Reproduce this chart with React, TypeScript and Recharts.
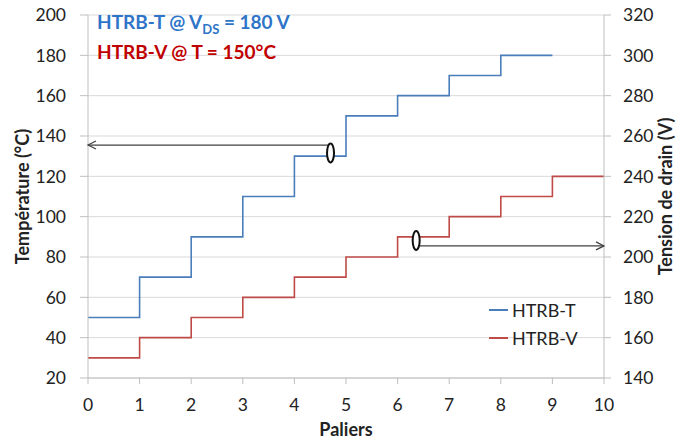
import React from 'react';
import {
  ComposedChart, Line, XAxis, YAxis, CartesianGrid, Legend, ReferenceLine, ReferenceDot,
} from 'recharts';

// paliers (x) and step values
const paliersT = [0, 1, 2, 3, 4, 5, 6, 7, 8, 9];
const temperature = [50, 70, 90, 110, 130, 150, 160, 170, 180, 180];
const paliersV = [0, 1, 2, 3, 4, 5, 6, 7, 8, 9, 10];
const tension = [150, 160, 170, 180, 190, 200, 210, 220, 230, 240, 240];

const xTicks = [0, 1, 2, 3, 4, 5, 6, 7, 8, 9, 10];
const leftTicks = [20, 40, 60, 80, 100, 120, 140, 160, 180, 200];
const rightTicks = [140, 160, 180, 200, 220, 240, 260, 280, 300, 320];

// annotation arrows: [xStart, xEnd, y] and ellipse [x, y]
const arrowLeft = { x1: 0, x2: 4.7, y: 135.5 };
const ellipseLeft = { x: 4.7, y: 131.6 };
const arrowRight = { x1: 6.36, x2: 10, y: 205.5 };
const ellipseRight = { x: 6.36, y: 208.2 };

const BLUE = '#4A7EBB';
const RED = '#BE4B48';
const FONT = 'Lato, "Open Sans", sans-serif';
const AXIS = '#BFBFBF';

const dataT = paliersT.map((p, i) => ({ p, t: temperature[i] }));
const dataV = paliersV.map((p, i) => ({ p, v: tension[i] }));

const tick = { fill: '#222', fontSize: 17.5, fontFamily: FONT };

const Ellipse = (props: any) => (
  <ellipse cx={props.cx} cy={props.cy} rx={3.5} ry={9.5} fill="#fff" stroke="#111" strokeWidth={2} />
);

const HeadLeft = (props: any) => (
  <polyline
    points={`${props.cx + 8},${props.cy - 4} ${props.cx},${props.cy} ${props.cx + 8},${props.cy + 4}`}
    fill="none" stroke="#404040" strokeWidth={1.2}
  />
);

const HeadRight = (props: any) => (
  <polyline
    points={`${props.cx - 8},${props.cy - 4} ${props.cx},${props.cy} ${props.cx - 8},${props.cy + 4}`}
    fill="none" stroke="#404040" strokeWidth={1.2}
  />
);

const renderLegend = (props: any) => (
  <div style={{ fontFamily: FONT, fontSize: 18, color: '#222' }}>
    {(props.payload || []).map((e: any) => (
      <div key={e.value} style={{ display: 'flex', alignItems: 'center', height: 28 }}>
        <svg width={24} height={10}>
          <line x1={2} y1={5} x2={21} y2={5} stroke={e.color} strokeWidth={2} />
        </svg>
        <span style={{ marginLeft: 1 }}>{e.value}</span>
      </div>
    ))}
  </div>
);

const leftLabel = (props: any) => {
  const { viewBox } = props;
  const x = 22;
  const y = viewBox.y + viewBox.height / 2;
  return (
    <text x={x} y={y} transform={`rotate(-90 ${x} ${y})`} textAnchor="middle" dominantBaseline="central"
      style={{ fontFamily: FONT, fontSize: 18, fontWeight: 700, fill: '#222' }}>
      Température (°C)
    </text>
  );
};

const rightLabel = (props: any) => {
  const { viewBox } = props;
  const x = 665;
  const y = viewBox.y + viewBox.height / 2;
  return (
    <text x={x} y={y} transform={`rotate(-90 ${x} ${y})`} textAnchor="middle" dominantBaseline="central"
      style={{ fontFamily: FONT, fontSize: 18, fontWeight: 700, fill: '#222' }}>
      Tension de drain (V)
    </text>
  );
};

export default function App() {
  return (
    <div style={{ position: 'absolute', left: 0, top: 0, width: 681, height: 443, background: '#fff' }}>
      <ComposedChart width={681} height={443} margin={{ top: 15, right: 0, left: 0, bottom: 0 }}>
        <CartesianGrid yAxisId="left" vertical={false} stroke="#D9D9D9" />
        <XAxis
          type="number" dataKey="p" domain={[0, 10]} ticks={xTicks} height={65}
          tick={tick} tickSize={6} tickMargin={15} stroke={AXIS} allowDuplicatedCategory={false}
          label={{ value: 'Paliers', position: 'insideBottom', offset: 7, style: { fontFamily: FONT, fontSize: 18, fontWeight: 700, fill: '#222' } }}
        />
        <YAxis
          yAxisId="left" orientation="left" domain={[20, 200]} ticks={leftTicks} width={88}
          tick={tick} tickSize={8} tickMargin={14} stroke={AXIS} label={leftLabel}
        />
        <YAxis
          yAxisId="right" orientation="right" domain={[140, 320]} ticks={rightTicks} width={77}
          tick={tick} tickSize={7} tickMargin={12} stroke={AXIS} label={rightLabel}
        />
        <Line yAxisId="left" data={dataT} dataKey="t" name="HTRB-T" type="stepAfter" stroke={BLUE}
          strokeWidth={1.6} dot={false} isAnimationActive={false} />
        <Line yAxisId="right" data={dataV} dataKey="v" name="HTRB-V" type="stepAfter" stroke={RED}
          strokeWidth={1.6} dot={false} isAnimationActive={false} />

        <ReferenceLine yAxisId="left" segment={[{ x: arrowLeft.x1, y: arrowLeft.y }, { x: arrowLeft.x2, y: arrowLeft.y }]}
          stroke="#404040" strokeWidth={1.2} />
        <ReferenceDot yAxisId="left" x={arrowLeft.x1} y={arrowLeft.y} shape={HeadLeft} />
        <ReferenceDot yAxisId="left" x={ellipseLeft.x} y={ellipseLeft.y} shape={Ellipse} />

        <ReferenceLine yAxisId="right" segment={[{ x: arrowRight.x1, y: arrowRight.y }, { x: arrowRight.x2, y: arrowRight.y }]}
          stroke="#404040" strokeWidth={1.2} />
        <ReferenceDot yAxisId="right" x={arrowRight.x2} y={arrowRight.y} shape={HeadRight} />
        <ReferenceDot yAxisId="right" x={ellipseRight.x} y={ellipseRight.y} shape={Ellipse} />

        <Legend layout="vertical" align="center" verticalAlign="middle" content={renderLegend}
          wrapperStyle={{ left: 487, top: 296, width: 120 }} />
      </ComposedChart>
      <div style={{ position: 'absolute', left: 97, top: 10, fontFamily: FONT, fontSize: 19, fontWeight: 700, color: '#2E75C9', whiteSpace: 'nowrap' }}>
        HTRB-T @ V<sub style={{ fontSize: 13 }}>DS</sub> = 180 V
      </div>
      <div style={{ position: 'absolute', left: 97, top: 40, fontFamily: FONT, fontSize: 19, fontWeight: 700, color: '#C00000', whiteSpace: 'nowrap' }}>
        HTRB-V @ T = 150°C
      </div>
    </div>
  );
}
